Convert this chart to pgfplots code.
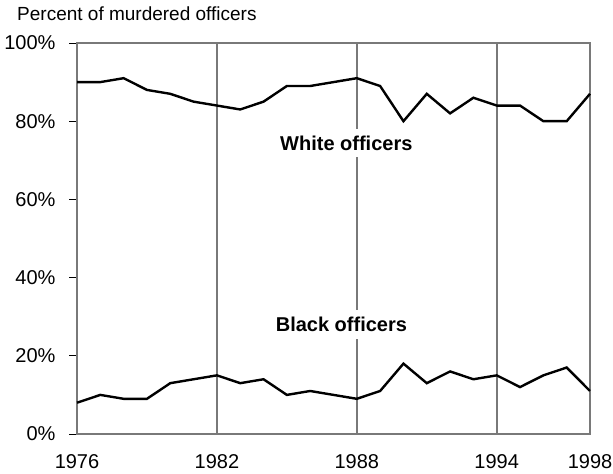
\documentclass[border=0pt]{standalone}
\usepackage{fontspec}
\setmainfont{Liberation Sans}
\usepackage{pgfplots}
\pgfplotsset{compat=1.18}
\begin{document}
\begin{tikzpicture}
\useasboundingbox (0,0) rectangle (613bp,474bp);
\begin{axis}[
  at={(77bp,40bp)}, anchor=south west,
  scale only axis, width=513bp, height=391bp,
  xmin=1976, xmax=1998, ymin=0, ymax=100,
  axis line style={draw=gray!95!black, line width=2bp},
  xtick={1976,1982,1988,1994,1998},
  xticklabels={1976,1982,1988,1994,\raisebox{3bp}{1998}},
  xmajorgrids, grid style={gray!95!black, line width=2bp},
  major x tick style={draw=none},
  ytick={0,20,40,60,80,100},
  yticklabel={\pgfmathprintnumber{\tick}\%},
  ytick pos=left, xtick pos=bottom,
  tick align=outside, major tick length=8bp,
  major y tick style={black, line width=0.8bp},
  /pgf/number format/assume math mode=true,
  tick label style={font=\fontsize{20bp}{24bp}\selectfont},
  xticklabel style={anchor=north, yshift=-10bp, inner sep=2bp},
  yticklabel style={anchor=east, xshift=-10bp},
  clip=false,
]
\addplot[black, line width=2.4bp] coordinates {
(1976,90)(1977,90)(1978,91)(1979,88)(1980,87)(1981,85)(1982,84)(1983,83)(1984,85)(1985,89)(1986,89)(1987,90)
(1988,91)(1989,89)(1990,80)(1991,87)(1992,82)(1993,86)(1994,84)(1995,84)(1996,80)(1997,80)(1998,87)};
\addplot[black, line width=2.4bp] coordinates {
(1976,8)(1977,10)(1978,9)(1979,9)(1980,13)(1981,14)(1982,15)(1983,13)(1984,14)(1985,10)(1986,11)(1987,10)
(1988,9)(1989,11)(1990,18)(1991,13)(1992,16)(1993,14)(1994,15)(1995,12)(1996,15)(1997,17)(1998,11)};
\node[fill=white, inner xsep=1bp, inner ysep=7bp, font=\bfseries\fontsize{20bp}{24bp}\selectfont] at (axis cs:1987.55,74.4) {White officers};
\node[fill=white, inner xsep=1bp, inner ysep=7bp, font=\bfseries\fontsize{20bp}{24bp}\selectfont] at (axis cs:1987.34,28.0) {Black officers};
\end{axis}
\node[anchor=base west, inner sep=0pt, font=\fontsize{19bp}{23bp}\selectfont] at (17bp,453bp) {Percent of murdered officers};
\end{tikzpicture}
\end{document}
